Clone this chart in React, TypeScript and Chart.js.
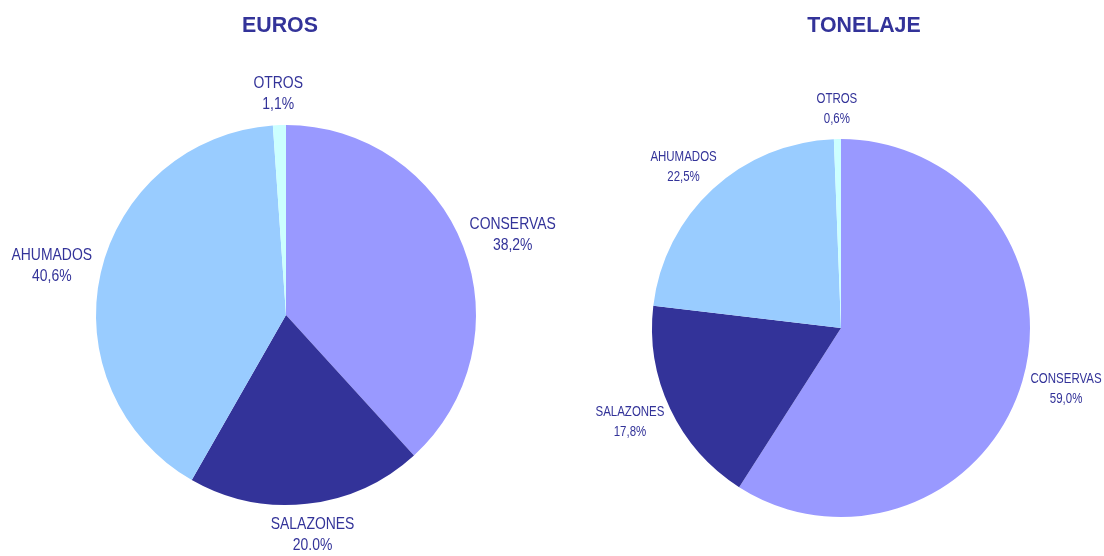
import React, { useEffect, useRef } from "react";
import { Chart, registerables } from "chart.js";

Chart.register(...registerables);

const categories = ["CONSERVAS", "SALAZONES", "AHUMADOS", "OTROS"];
const eurosValues = [38.2, 20.0, 40.6, 1.1];
const eurosPctLabels = ["38,2%", "20.0%", "40,6%", "1,1%"];
const tonelajeValues = [59.0, 17.8, 22.5, 0.6];
const tonelajePctLabels = ["59,0%", "17,8%", "22,5%", "0,6%"];
const sliceColors = ["#9999FF", "#333399", "#99CCFF", "#CCFFFF"];

const LABEL_FONT = "'Liberation Sans', Arial, sans-serif";
const TITLE_FONT = "'Liberation Sans', Arial, sans-serif";
const TEXT_COLOR = "#333399";
const NARROW = 0.82;

type PieCfg = {
  title: string;
  titleX: number;
  titleY: number;
  values: number[];
  pct: string[];
  padding: { left: number; right: number; top: number; bottom: number };
  fontSize: number;
  lineHeight: number;
  gap: number;
};

function drawNarrow(ctx: CanvasRenderingContext2D, text: string, x: number, y: number, sx: number) {
  ctx.save();
  ctx.translate(x, y);
  ctx.scale(sx, 1);
  ctx.fillText(text, 0, 0);
  ctx.restore();
}

function makeLabelPlugin(cfg: PieCfg) {
  return {
    id: "outsideLabels",
    afterDraw(chart: any) {
      const ctx = chart.ctx as CanvasRenderingContext2D;
      const meta = chart.getDatasetMeta(0);
      ctx.save();
      ctx.fillStyle = TEXT_COLOR;
      ctx.textBaseline = "middle";
      ctx.textAlign = "center";
      ctx.font = `${cfg.fontSize}px ${LABEL_FONT}`;
      meta.data.forEach((arc: any, i: number) => {
        const p = arc.getProps(["x", "y", "startAngle", "endAngle", "outerRadius"], true);
        const mid = (p.startAngle + p.endAngle) / 2;
        const ux = Math.cos(mid);
        const uy = Math.sin(mid);
        const r = p.outerRadius + cfg.gap;
        const px = p.x + ux * r;
        const py = p.y + uy * r;
        const lines = [String(chart.data.labels[i]), cfg.pct[i]];
        const w = Math.max(...lines.map((l) => ctx.measureText(l).width)) * NARROW;
        const h = cfg.lineHeight * lines.length;
        const cx = px + (ux * w) / 2;
        const cy = py + (uy * h) / 2;
        lines.forEach((l, j) => {
          drawNarrow(ctx, l, cx, cy - h / 2 + cfg.lineHeight * (j + 0.5), NARROW);
        });
      });
      ctx.font = `bold 22px ${TITLE_FONT}`;
      drawNarrow(ctx, cfg.title, cfg.titleX, cfg.titleY, 0.97);
      ctx.restore();
    },
  };
}

function PieCanvas({ cfg }: { cfg: PieCfg }) {
  const ref = useRef<HTMLCanvasElement | null>(null);
  useEffect(() => {
    if (!ref.current) return;
    const chart = new Chart(ref.current, {
      type: "pie",
      data: {
        labels: categories,
        datasets: [
          {
            data: cfg.values,
            backgroundColor: sliceColors,
            borderWidth: 0,
            hoverOffset: 0,
          },
        ],
      },
      options: {
        responsive: false,
        animation: false,
        events: [],
        layout: { padding: cfg.padding },
        plugins: {
          legend: { display: false },
          tooltip: { enabled: false },
          title: { display: false },
        },
      },
      plugins: [makeLabelPlugin(cfg)],
    });
    return () => chart.destroy();
  }, [cfg]);
  return (
    <canvas
      ref={ref}
      width={1104}
      height={556}
      style={{ position: "absolute", left: 0, top: 0, width: 1104, height: 556 }}
    />
  );
}

const eurosCfg: PieCfg = {
  title: "EUROS",
  titleX: 280,
  titleY: 26,
  values: eurosValues,
  pct: eurosPctLabels,
  padding: { left: 96, right: 628, top: 125, bottom: 51 },
  fontSize: 17,
  lineHeight: 21,
  gap: 10,
};

const tonelajeCfg: PieCfg = {
  title: "TONELAJE",
  titleX: 864,
  titleY: 26,
  values: tonelajeValues,
  pct: tonelajePctLabels,
  padding: { left: 652, right: 74, top: 139, bottom: 39 },
  fontSize: 14,
  lineHeight: 20,
  gap: 10,
};

export default function App() {
  return (
    <div
      style={{
        position: "absolute",
        left: 0,
        top: 0,
        width: 1104,
        height: 556,
        background: "#ffffff",
        overflow: "hidden",
      }}
    >
      <PieCanvas cfg={eurosCfg} />
      <PieCanvas cfg={tonelajeCfg} />
    </div>
  );
}
